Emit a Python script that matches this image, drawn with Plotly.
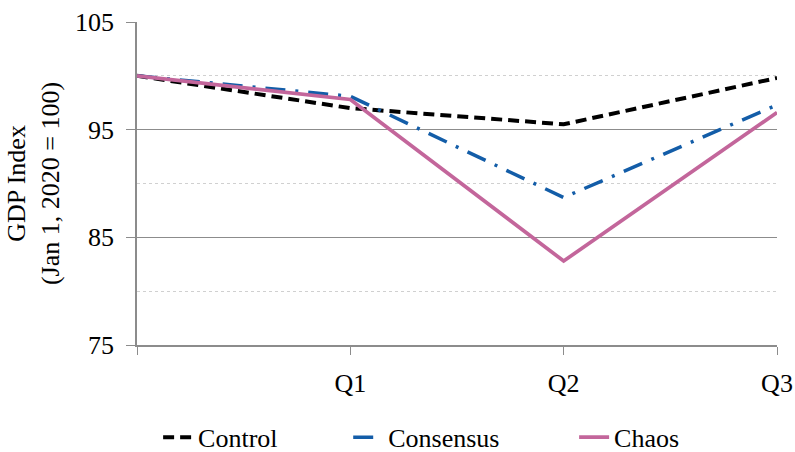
import plotly.graph_objects as go

categories = ["", "Q1", "Q2", "Q3"]
control = [100.0, 97.0, 95.5, 99.8]
consensus = [100.0, 98.1, 88.7, 97.3]
chaos = [100.0, 97.8, 82.8, 96.6]

x = list(range(len(categories)))
font = "Liberation Serif, Times New Roman, serif"
FS = 26

fig = go.Figure()
fig.add_trace(go.Scatter(x=x, y=control, name="Control", mode="lines", legend="legend",
                         line=dict(color="#000000", width=4, dash="11px,6px")))
fig.add_trace(go.Scatter(x=x, y=consensus, name="Consensus", mode="lines", legend="legend2",
                         line=dict(color="#135DA8", width=3.5, dash="20px,10px,3px,10px")))
fig.add_trace(go.Scatter(x=x, y=chaos, name="Chaos", mode="lines", legend="legend3",
                         line=dict(color="#C3669B", width=3.7)))

leg = dict(orientation="h", xanchor="left", y=-0.213, yanchor="top",
           font=dict(family=font, size=FS), bgcolor="rgba(0,0,0,0)")
fig.update_layout(
    width=795, height=452,
    margin=dict(l=137, r=18, t=22, b=107, autoexpand=False),
    paper_bgcolor="white", plot_bgcolor="white",
    font=dict(family=font, size=FS, color="#000000"),
    showlegend=True,
    legend=dict(leg, x=0.033),
    legend2=dict(leg, x=0.330),
    legend3=dict(leg, x=0.683),
)
fig.update_xaxes(
    range=[0, 3], tickmode="array", tickvals=x, ticktext=categories,
    showgrid=False, showline=True, linecolor="#8C8C8C", linewidth=1.5,
    ticks="outside", ticklen=8, tickcolor="#8C8C8C", ticklabelstandoff=6,
    zeroline=False, automargin=False,
)
fig.update_yaxes(
    range=[75, 105], tickvals=[75, 85, 95, 105],
    showgrid=True, gridcolor="#8C8C8C", gridwidth=1.2,
    showline=True, linecolor="#8C8C8C", linewidth=1.5,
    ticks="outside", ticklen=9, tickcolor="#8C8C8C", ticklabelstandoff=7,
    zeroline=False, automargin=False,
    minor=dict(tickvals=[80, 90, 100], showgrid=True, gridcolor="#D0D0D0",
               griddash="dot", gridwidth=1, ticks=""),
    title=dict(text="GDP Index<br>(Jan 1, 2020 = 100)", standoff=8,
               font=dict(family=font, size=FS)),
)

fig.write_html("out.html", config={"displayModeBar": False},
               post_script="document.body.style.margin='0';")
